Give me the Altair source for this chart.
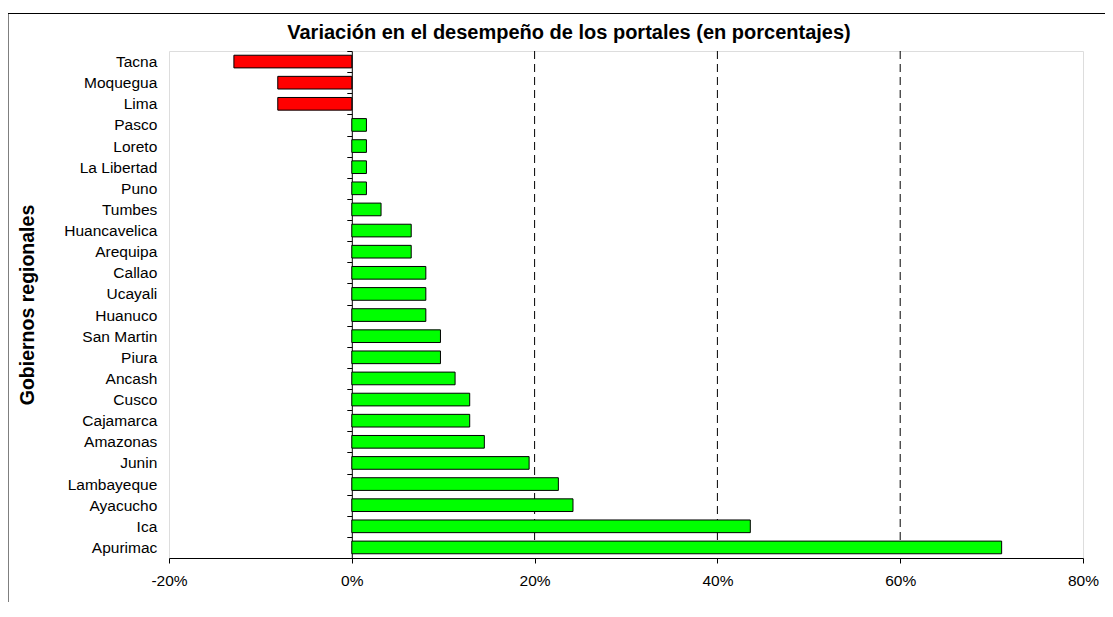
import altair as alt
import pandas as pd

regiones = ["Tacna", "Moquegua", "Lima", "Pasco", "Loreto", "La Libertad", "Puno",
            "Tumbes", "Huancavelica", "Arequipa", "Callao", "Ucayali", "Huanuco",
            "San Martin", "Piura", "Ancash", "Cusco", "Cajamarca", "Amazonas",
            "Junin", "Lambayeque", "Ayacucho", "Ica", "Apurimac"]
variacion = [-12.9, -8.1, -8.1, 1.6, 1.6, 1.6, 1.6, 3.2, 6.5, 6.5, 8.1, 8.1, 8.1,
             9.7, 9.7, 11.3, 12.9, 12.9, 14.5, 19.4, 22.6, 24.2, 43.6, 71.1]
x_ticks = [-20, 0, 20, 40, 60, 80]
grid_vals = [20, 40, 60]

FONT = "Liberation Sans"
W, H = 914, 507
zero_px = W * 20 / 100

df = pd.DataFrame({"region": regiones, "valor": variacion})
grid_df = pd.DataFrame({"g": grid_vals})
frame_df = pd.DataFrame({"f": [0]})

xscale = alt.Scale(domain=[-20, 80], nice=False, zero=False)
yscale = alt.Scale(paddingInner=0, paddingOuter=0)

frame = alt.Chart(frame_df).mark_rect(fill=None, stroke="black", strokeWidth=1).encode(
    x=alt.value(-161), x2=alt.value(1300), y=alt.value(-37.5), y2=alt.value(800)
)

grid = alt.Chart(grid_df).mark_rule(color="black", strokeWidth=1, strokeDash=[8, 5]).encode(
    x=alt.X("g:Q", scale=xscale)
)

bars = alt.Chart(df).mark_bar(height={"band": 0.6}, stroke="black", strokeWidth=1).encode(
    x=alt.X("valor:Q", scale=xscale, title=None,
            axis=alt.Axis(values=x_ticks, labelExpr="datum.value + '%'", grid=False,
                          domainColor="black", tickColor="black", tickSize=5,
                          labelFontSize=15.5, labelFont=FONT, labelColor="black",
                          labelPadding=10.5, labelFlush=False)),
    y=alt.Y("region:N", sort=regiones, scale=yscale, title="Gobiernos regionales",
            axis=alt.Axis(offset=-zero_px, tickBand="extent", labelPadding=190,
                          domainColor="black", tickColor="black", tickSize=5,
                          labelFontSize=15.5, labelFont=FONT, labelColor="black",
                          titleFont=FONT, titleFontSize=19.5, titleFontWeight="bold",
                          titleColor="black", titleX=27.5 - 169.3 - zero_px,
                          titleY=H / 2, titleAngle=270, titleBaseline="middle",
                          titleAlign="center", grid=False)),
    color=alt.condition(alt.datum.valor < 0, alt.value("#FF0000"), alt.value("#00FF00")),
)

chart = alt.layer(frame, grid, bars).properties(
    width=W, height=H,
    autosize=alt.AutoSizeParams(type="none"),
    padding={"left": 161, "top": 43, "right": 22, "bottom": 44},
    title=alt.TitleParams("Variación en el desempeño de los portales (en porcentajes)",
                          font=FONT, fontSize=20, fontWeight="bold", color="black",
                          anchor="middle", dx=-57, dy=38, offset=8),
).configure_view(stroke="#606060", strokeWidth=1).configure(background="white")

chart.save("out.html", embed_options={"renderer": "svg", "actions": False})
